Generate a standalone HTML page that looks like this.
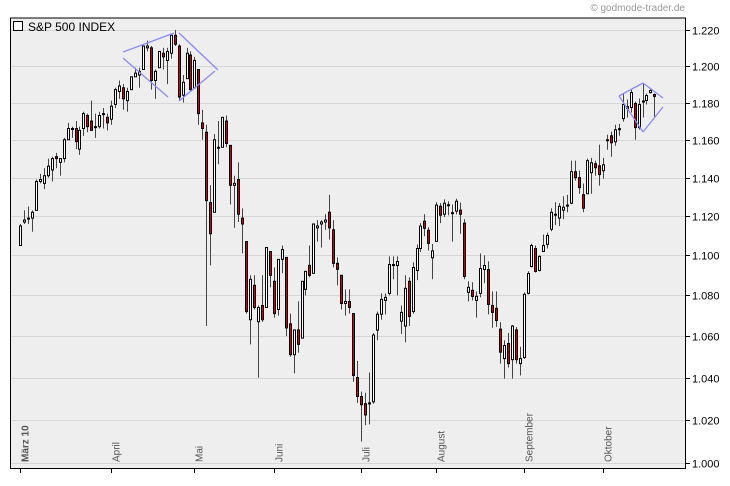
<!DOCTYPE html>
<html><head><meta charset="utf-8">
<style>
html,body{margin:0;padding:0;background:#fff;}
body{width:730px;height:481px;overflow:hidden;font-family:"Liberation Sans",sans-serif;}
svg text{font-family:"Liberation Sans",sans-serif;}
</style></head>
<body>
<svg id="chart" width="730" height="481" viewBox="0 0 730 481" xmlns="http://www.w3.org/2000/svg">
  <rect x="10" y="18" width="675" height="450" fill="#eeeeee"/>
  <g id="grid"></g>
  <g id="candles"></g>
  <g id="annot" stroke="#8a8aff" stroke-width="1.3" fill="none">
    <line x1="123" y1="52" x2="174" y2="33"/>
    <line x1="123" y1="58" x2="168" y2="97"/>
    <line x1="179" y1="33" x2="218" y2="70"/>
    <line x1="179" y1="101" x2="215" y2="71"/>
    <line x1="619" y1="96" x2="643" y2="83"/>
    <line x1="643" y1="83" x2="663" y2="98"/>
    <line x1="619" y1="96" x2="643" y2="132"/>
    <line x1="643" y1="132" x2="663" y2="107"/>
  </g>
  <path d="M10.5 18 V468.5 H685.5 V18 Z" fill="none" stroke="#000" stroke-width="1"/>
  <g id="axes"></g>
  <rect x="13.5" y="21.5" width="9" height="9" fill="#fff" stroke="#000"/>
  <text x="28" y="31" font-size="12" fill="#000">S&amp;P 500 INDEX</text>
  <text x="685" y="11" font-size="10" fill="#999" text-anchor="end">© godmode-trader.de</text>
</svg>
<script>
const opens=[1105,1117,1119,1119,1123,1138,1137,1141,1144,1151,1148,1150,1160,1166,1166,1155,1166,1173,1170,1167,1167,1174,1172,
1171,1179,1186,1188,1181,1187,1194,1195,1198,1210,1210,1192,1199,1207,1203,1207,1217,1211,1184,1193,1206,
1188,1198,1169,1164,1127,1122,1156,1156,1170,1157,1136,1139,1119,1107,1068,1085,1067,1075,1074,1102,
1087,1073,1098,1099,1066,1051,1063,1059,1083,1095,1091,1114,1116,1117,1122,1113,1096,1090,1076,1077,1071,1040,
1031,1027.6,1027.5,1028.5,1062.9,1070.7,1077.5,1081,1095,1094.9,1067.3,1064.9,1087,1072,1092.4,1103.5,1117.4,1112.8,1098.8,
1107.1,1125.1,1121,1125.4,1121.3,1122.6,1123.1,1116.4,1081.5,1082.5,1077.5,1081,1092.9,1092.9,1075,1073.6,1063.4,1049.1,1056.4,1048.6,1063,1046.7,
1049.6,1081,1094.4,1103.5,1092.4,1102,1105.6,1113.3,1120.5,1119,1123.1,1125.4,1126.7,1143.1,1140,1131.1,1131.6,1142.6,1147.3,1146.2,1143.6,
1159.7,1162.1,1158.9,1165.6,1171.3,1177.8,1177.3,1179.5,1166.5,1180.3,1181.1,1185.4,1184.3];
const highs=[1116,1123,1125,1123,1139,1142,1145,1150,1151,1153,1150,1161,1169,1167,1170,1167,1175,1174,1181,1174,1175,1177,1174,
1181,1188,1192,1190,1188,1194,1199,1199,1211,1214,1211,1198,1208,1210,1210,1217,1220,1212,1195,1210,1208,
1205,1198,1176,1168,1136,1163,1170,1172,1173,1157,1141,1148,1124,1107,1090,1090,1075,1090,1104,1102,
1094,1098,1105,1099,1071,1063,1077,1087,1092,1105,1116,1118,1118,1121,1131,1118,1099,1090,1083,1083,1071,1048,
1033.3,1032.8,1042.4,1061.5,1072,1081,1081,1099.5,1099.5,1099.5,1075,1090,1089,1096.5,1105.6,1116.4,1121,1114.3,1105.8,
1127.2,1126.7,1128.7,1127.7,1126,1129,1127,1118.5,1087,1086.5,1082,1101,1100,1097,1082,1082,1066.8,1058,1061.5,1065.4,1064.4,1054.8,
1081.5,1092,1106,1105,1100,1110.6,1111.6,1124.1,1127.2,1126.7,1130.3,1131,1148.9,1148.9,1143.7,1136.9,1150,1150.4,1148.9,1157.4,1150.4,
1162.7,1164.3,1168,1168.5,1184.9,1181.6,1187,1180.5,1182.2,1190.3,1184.9,1187.6,1184.9];
const lows=[1105,1116,1116,1112,1123,1137,1134,1140,1138,1145,1141,1148,1160,1161,1155,1152,1162,1164,1165,1161,1166,1166,1165,
1168,1177,1182,1176,1175,1187,1194,1188,1198,1208,1187,1182,1199,1198,1190,1204,1211,1181,1180,1193,1186,
1188,1168,1160,1065,1095,1122,1147,1156,1156,1126,1114,1117,1101,1071,1056,1073,1040,1067,1074,1084,
1069,1070,1091,1060,1050,1042,1052,1059,1080,1089,1091,1107,1104,1113,1108,1094,1085,1073,1070,1071,1038,1028,
1009.9,1017.5,1017.9,1027.6,1058,1068,1070.6,1080,1088,1080,1061,1057,1065,1071,1087.6,1101.7,1109.7,1102.5,1088,
1107,1116.4,1119.5,1120.5,1107,1121,1111,1088,1077,1077.5,1069,1079,1086,1070.6,1064,1064.5,1046.7,1039.5,1044.8,1039.5,1046.7,1041,
1049,1080.5,1094,1091.4,1092,1104,1103.5,1112.3,1115.4,1114.9,1118.5,1122,1126.2,1138.4,1131.6,1122,1131.6,1131.6,1141,1135.8,1139.5,
1154.7,1151,1156.8,1162.1,1169.7,1171.9,1174.6,1160,1165.4,1171.9,1178.9,1184.9,1172.4];
const closes=[1115,1118,1119,1122,1138,1139,1141,1146,1150,1150,1150,1160,1166,1166,1159,1165,1174,1167,1165,1167,1173,1174,1169,
1178,1187,1189,1182,1186,1194,1196,1197,1211,1211,1192,1197,1208,1205,1208,1217,1212,1183,1191,1207,1187,
1203,1174,1166,1128,1111,1160,1156,1172,1158,1136,1137,1121,1116,1072,1088,1074,1074,1068,1104,1090,
1071,1098,1103,1064,1051,1063,1056,1087,1092,1090,1116,1115,1117,1118,1114,1096,1093,1076,1077,1074,1041,1031,
1027.1,1022.3,1028,1060.5,1070.7,1078,1079,1095.4,1095.4,1096.9,1071.6,1083.5,1069.6,1093.9,1103.5,1114.9,1113.8,1106.1,1102.3,
1125.7,1120.5,1126.7,1125.9,1121.8,1127.7,1121,1089.4,1084,1079.5,1079.5,1093.4,1094.9,1075.5,1071.6,1067.6,1052.2,1055.4,1046.7,1064.9,1048.6,1049.1,
1080.5,1090.9,1105,1091.9,1099.5,1105,1110.1,1122,1121,1125.1,1124.6,1125.7,1143.1,1140,1134.8,1124.1,1148.9,1147.8,1145.2,1141.6,1146.7,
1160,1158.4,1165.3,1165.9,1178.9,1176.7,1185.4,1166.5,1178.9,1180.8,1183.8,1186.5,1183.3];
const yTicks=[1000,1020,1040,1060,1080,1100,1120,1140,1160,1180,1200,1220];
const yTickLabels=["1.000","1.020","1.040","1.060","1.080","1.100","1.120","1.140","1.160","1.180","1.200","1.220"];
const monthIdx=[0,23,44,64,86,105,127,147];
const monthLabels=["März 10","April","Mai","Juni","Juli","August","September","Oktober"];

const NS="http://www.w3.org/2000/svg";
function yS(v){return 463-2178*Math.log(v/1000);}
function xS(i){return 20+i*3.965;}
function mk(tag,attrs,parent){const e=document.createElementNS(NS,tag);for(const k in attrs)e.setAttribute(k,attrs[k]);parent.appendChild(e);return e;}
const grid=document.getElementById('grid'),axes=document.getElementById('axes'),cg=document.getElementById('candles');
yTicks.forEach((v,k)=>{
  const y=Math.round(yS(v))+0.5;
  const g=mk('line',{x1:10,x2:685,y1:y,y2:y,stroke:'#d6d6d6','stroke-width':1},grid);
  
  
  const t=mk('line',{x1:685,x2:690,y1:y,y2:y,stroke:'#000','stroke-width':1},axes);
  
  
  const tx=mk('text',{x:692,y:y+4,'font-size':11,fill:'#000'},axes);
  tx.textContent=yTickLabels[k];
  
  
});
monthIdx.forEach((idx,k)=>{
  const x=Math.round(xS(idx))+0.5;
  const t=mk('line',{x1:x,x2:x,y1:468,y2:473,stroke:'#000','stroke-width':1},axes);
  
  
  const tx=mk('text',{x:0,y:0,'font-size':10,fill:'#555',transform:'translate('+(x+8)+',462) rotate(-90)','font-weight':k===0?'bold':'normal'},axes);
  tx.textContent=monthLabels[k];
  
  
});
closes.forEach((c,i)=>{
  const o=opens[i],h=highs[i],l=lows[i];
  const x=Math.round(xS(i))+0.5;
  const w=mk('line',{x1:x,x2:x,y1:yS(h),y2:yS(l),stroke:'#444','stroke-width':1},cg);
  
  
  const top=yS(Math.max(o,c)),bot=yS(Math.min(o,c));
  const r=mk('rect',{x:x-1,y:top,width:2,height:Math.max(bot-top,1),fill:c>=o?'#ffffff':'#cc0000',stroke:'#000','stroke-width':1},cg);
  
  
});
</script>
</body></html>
